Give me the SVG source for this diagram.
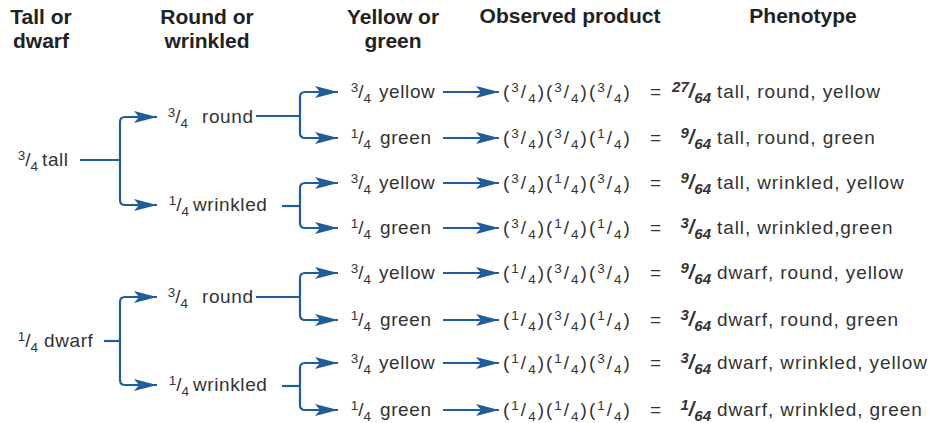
<svg xmlns="http://www.w3.org/2000/svg" width="934" height="423" viewBox="0 0 934 423">
<defs>
<style>
.h{font-family:"Liberation Sans",Arial,sans-serif;font-weight:bold;font-size:21px;fill:#222;text-anchor:middle}
.t{font-family:"Liberation Sans",Arial,sans-serif;font-size:19px;fill:#333;letter-spacing:0.6px}
.p{font-family:"Liberation Sans",Arial,sans-serif;font-size:19px;fill:#333;letter-spacing:2px}
.d{font-family:"Liberation Sans",Arial,sans-serif;font-size:19px;fill:#333;letter-spacing:0.9px}
.f{font-family:"Liberation Sans",Arial,sans-serif;font-size:19px;fill:#333;text-anchor:end}
.s{font-size:13.5px}
.fb{font-family:"Liberation Sans",Arial,sans-serif;font-weight:bold;font-style:italic;fill:#333;text-anchor:end;font-size:20px}
.fs{font-size:15px}
.c{fill:none;stroke:#1f5e9b;stroke-width:2.2}
.a{marker-end:url(#ah)}
</style>
<marker id="ah" markerUnits="userSpaceOnUse" markerWidth="24" markerHeight="13" refX="23" refY="6.5" orient="auto" overflow="visible">
<path d="M0,0.5 L23,6.5 L0,12.5 L5,6.5 Z" fill="#1f5e9b"/>
</marker>
</defs>
<rect width="934" height="423" fill="#fff"/>

<g id="headers">
<text class="h" x="41" y="24">Tall or</text>
<text class="h" x="41" y="48">dwarf</text>
<text class="h" x="207" y="24">Round or</text>
<text class="h" x="207" y="48">wrinkled</text>
<text class="h" x="393" y="24">Yellow or</text>
<text class="h" x="393" y="48">green</text>
<text class="h" x="570" y="23">Observed product</text>
<text class="h" x="803" y="23">Phenotype</text>
</g>

<g id="connectors">
<path class="c" d="M80,160 H120"/>
<path class="c a" d="M120,160 V122 Q120,117 125,117 H157"/>
<path class="c a" d="M120,160 V200 Q120,205 125,205 H157"/>
<path class="c" d="M104,341 H120"/>
<path class="c a" d="M120,341 V302 Q120,297 125,297 H157"/>
<path class="c a" d="M120,341 V380 Q120,385 125,385 H157"/>

<path class="c" d="M256,116 H300"/>
<path class="c a" d="M300,116 V97 Q300,92 305,92 H338"/>
<path class="c a" d="M300,116 V133 Q300,138 305,138 H338"/>
<path class="c" d="M282,206 H300"/>
<path class="c a" d="M300,206 V188 Q300,183 305,183 H338"/>
<path class="c a" d="M300,206 V223 Q300,228 305,228 H338"/>
<path class="c" d="M256,297 H300"/>
<path class="c a" d="M300,297 V278 Q300,273 305,273 H338"/>
<path class="c a" d="M300,297 V315 Q300,320 305,320 H338"/>
<path class="c" d="M282,386 H300"/>
<path class="c a" d="M300,386 V368 Q300,363 305,363 H338"/>
<path class="c a" d="M300,386 V405 Q300,410 305,410 H338"/>

<path class="c a" d="M443,92 H499"/>
<path class="c a" d="M443,138 H499"/>
<path class="c a" d="M443,183 H499"/>
<path class="c a" d="M443,228 H499"/>
<path class="c a" d="M443,273 H499"/>
<path class="c a" d="M443,320 H499"/>
<path class="c a" d="M443,363 H499"/>
<path class="c a" d="M443,410 H499"/>
</g>

<g id="tall">
<text class="f" x="38" y="166"><tspan class="s" dy="-6">3</tspan><tspan dy="6">/</tspan><tspan class="s" dy="5">4</tspan></text>
<text class="t" x="42" y="166">tall</text>
</g>
<g id="dwarf">
<text class="f" x="38" y="347"><tspan class="s" dy="-6">1</tspan><tspan dy="6">/</tspan><tspan class="s" dy="5">4</tspan></text>
<text class="t" x="44" y="347">dwarf</text>
</g>

<g id="tall-round">
<text class="f" x="188" y="123"><tspan class="s" dy="-6">3</tspan><tspan dy="6">/</tspan><tspan class="s" dy="5">4</tspan></text>
<text class="t" x="202" y="123">round</text>
</g>
<g id="tall-wrinkled">
<text class="f" x="189" y="211"><tspan class="s" dy="-6">1</tspan><tspan dy="6">/</tspan><tspan class="s" dy="5">4</tspan></text>
<text class="t" x="193" y="211">wrinkled</text>
</g>
<g id="dwarf-round">
<text class="f" x="188" y="303"><tspan class="s" dy="-6">3</tspan><tspan dy="6">/</tspan><tspan class="s" dy="5">4</tspan></text>
<text class="t" x="202" y="303">round</text>
</g>
<g id="dwarf-wrinkled">
<text class="f" x="189" y="391"><tspan class="s" dy="-6">1</tspan><tspan dy="6">/</tspan><tspan class="s" dy="5">4</tspan></text>
<text class="t" x="193" y="391">wrinkled</text>
</g>

<g id="c1">
<text class="f" x="371" y="98"><tspan class="s" dy="-6">3</tspan><tspan dy="6">/</tspan><tspan class="s" dy="5">4</tspan></text>
<text class="t" x="379" y="98">yellow</text>
</g>
<g id="c2">
<text class="f" x="371" y="144"><tspan class="s" dy="-6">1</tspan><tspan dy="6">/</tspan><tspan class="s" dy="5">4</tspan></text>
<text class="t" x="380" y="144">green</text>
</g>
<g id="c3">
<text class="f" x="371" y="189"><tspan class="s" dy="-6">3</tspan><tspan dy="6">/</tspan><tspan class="s" dy="5">4</tspan></text>
<text class="t" x="379" y="189">yellow</text>
</g>
<g id="c4">
<text class="f" x="371" y="234"><tspan class="s" dy="-6">1</tspan><tspan dy="6">/</tspan><tspan class="s" dy="5">4</tspan></text>
<text class="t" x="380" y="234">green</text>
</g>
<g id="c5">
<text class="f" x="371" y="279"><tspan class="s" dy="-6">3</tspan><tspan dy="6">/</tspan><tspan class="s" dy="5">4</tspan></text>
<text class="t" x="379" y="279">yellow</text>
</g>
<g id="c6">
<text class="f" x="371" y="326"><tspan class="s" dy="-6">1</tspan><tspan dy="6">/</tspan><tspan class="s" dy="5">4</tspan></text>
<text class="t" x="380" y="326">green</text>
</g>
<g id="c7">
<text class="f" x="371" y="369"><tspan class="s" dy="-6">3</tspan><tspan dy="6">/</tspan><tspan class="s" dy="5">4</tspan></text>
<text class="t" x="379" y="369">yellow</text>
</g>
<g id="c8">
<text class="f" x="371" y="416"><tspan class="s" dy="-6">1</tspan><tspan dy="6">/</tspan><tspan class="s" dy="5">4</tspan></text>
<text class="t" x="380" y="416">green</text>
</g>

<g id="r1">
<text class="p" x="503" y="98">(<tspan class="s" dy="-6">3</tspan><tspan dy="6">/</tspan><tspan class="s" dy="5">4</tspan><tspan dy="-5">)(</tspan><tspan class="s" dy="-6">3</tspan><tspan dy="6">/</tspan><tspan class="s" dy="5">4</tspan><tspan dy="-5">)(</tspan><tspan class="s" dy="-6">3</tspan><tspan dy="6">/</tspan><tspan class="s" dy="5">4</tspan><tspan dy="-5">)</tspan></text>
<text class="t" x="650" y="98">=</text>
<text class="fb" x="711" y="98"><tspan class="fs" dy="-6">27</tspan><tspan dy="6">/</tspan><tspan class="fs" dy="5">64</tspan></text>
<text class="d" x="717" y="98">tall, round, yellow</text>
</g>
<g id="r2">
<text class="p" x="503" y="144">(<tspan class="s" dy="-6">3</tspan><tspan dy="6">/</tspan><tspan class="s" dy="5">4</tspan><tspan dy="-5">)(</tspan><tspan class="s" dy="-6">3</tspan><tspan dy="6">/</tspan><tspan class="s" dy="5">4</tspan><tspan dy="-5">)(</tspan><tspan class="s" dy="-6">1</tspan><tspan dy="6">/</tspan><tspan class="s" dy="5">4</tspan><tspan dy="-5">)</tspan></text>
<text class="t" x="650" y="144">=</text>
<text class="fb" x="711" y="144"><tspan class="fs" dy="-6">9</tspan><tspan dy="6">/</tspan><tspan class="fs" dy="5">64</tspan></text>
<text class="d" x="717" y="144">tall, round, green</text>
</g>
<g id="r3">
<text class="p" x="503" y="189">(<tspan class="s" dy="-6">3</tspan><tspan dy="6">/</tspan><tspan class="s" dy="5">4</tspan><tspan dy="-5">)(</tspan><tspan class="s" dy="-6">1</tspan><tspan dy="6">/</tspan><tspan class="s" dy="5">4</tspan><tspan dy="-5">)(</tspan><tspan class="s" dy="-6">3</tspan><tspan dy="6">/</tspan><tspan class="s" dy="5">4</tspan><tspan dy="-5">)</tspan></text>
<text class="t" x="650" y="189">=</text>
<text class="fb" x="711" y="189"><tspan class="fs" dy="-6">9</tspan><tspan dy="6">/</tspan><tspan class="fs" dy="5">64</tspan></text>
<text class="d" x="717" y="189">tall, wrinkled, yellow</text>
</g>
<g id="r4">
<text class="p" x="503" y="234">(<tspan class="s" dy="-6">3</tspan><tspan dy="6">/</tspan><tspan class="s" dy="5">4</tspan><tspan dy="-5">)(</tspan><tspan class="s" dy="-6">1</tspan><tspan dy="6">/</tspan><tspan class="s" dy="5">4</tspan><tspan dy="-5">)(</tspan><tspan class="s" dy="-6">1</tspan><tspan dy="6">/</tspan><tspan class="s" dy="5">4</tspan><tspan dy="-5">)</tspan></text>
<text class="t" x="650" y="234">=</text>
<text class="fb" x="711" y="234"><tspan class="fs" dy="-6">3</tspan><tspan dy="6">/</tspan><tspan class="fs" dy="5">64</tspan></text>
<text class="d" x="717" y="234">tall, wrinkled,green</text>
</g>
<g id="r5">
<text class="p" x="503" y="279">(<tspan class="s" dy="-6">1</tspan><tspan dy="6">/</tspan><tspan class="s" dy="5">4</tspan><tspan dy="-5">)(</tspan><tspan class="s" dy="-6">3</tspan><tspan dy="6">/</tspan><tspan class="s" dy="5">4</tspan><tspan dy="-5">)(</tspan><tspan class="s" dy="-6">3</tspan><tspan dy="6">/</tspan><tspan class="s" dy="5">4</tspan><tspan dy="-5">)</tspan></text>
<text class="t" x="650" y="279">=</text>
<text class="fb" x="711" y="279"><tspan class="fs" dy="-6">9</tspan><tspan dy="6">/</tspan><tspan class="fs" dy="5">64</tspan></text>
<text class="d" x="717" y="279">dwarf, round, yellow</text>
</g>
<g id="r6">
<text class="p" x="503" y="326">(<tspan class="s" dy="-6">1</tspan><tspan dy="6">/</tspan><tspan class="s" dy="5">4</tspan><tspan dy="-5">)(</tspan><tspan class="s" dy="-6">3</tspan><tspan dy="6">/</tspan><tspan class="s" dy="5">4</tspan><tspan dy="-5">)(</tspan><tspan class="s" dy="-6">1</tspan><tspan dy="6">/</tspan><tspan class="s" dy="5">4</tspan><tspan dy="-5">)</tspan></text>
<text class="t" x="650" y="326">=</text>
<text class="fb" x="711" y="326"><tspan class="fs" dy="-6">3</tspan><tspan dy="6">/</tspan><tspan class="fs" dy="5">64</tspan></text>
<text class="d" x="717" y="326">dwarf, round, green</text>
</g>
<g id="r7">
<text class="p" x="503" y="369">(<tspan class="s" dy="-6">1</tspan><tspan dy="6">/</tspan><tspan class="s" dy="5">4</tspan><tspan dy="-5">)(</tspan><tspan class="s" dy="-6">1</tspan><tspan dy="6">/</tspan><tspan class="s" dy="5">4</tspan><tspan dy="-5">)(</tspan><tspan class="s" dy="-6">3</tspan><tspan dy="6">/</tspan><tspan class="s" dy="5">4</tspan><tspan dy="-5">)</tspan></text>
<text class="t" x="650" y="369">=</text>
<text class="fb" x="711" y="369"><tspan class="fs" dy="-6">3</tspan><tspan dy="6">/</tspan><tspan class="fs" dy="5">64</tspan></text>
<text class="d" x="717" y="369">dwarf, wrinkled, yellow</text>
</g>
<g id="r8">
<text class="p" x="503" y="416">(<tspan class="s" dy="-6">1</tspan><tspan dy="6">/</tspan><tspan class="s" dy="5">4</tspan><tspan dy="-5">)(</tspan><tspan class="s" dy="-6">1</tspan><tspan dy="6">/</tspan><tspan class="s" dy="5">4</tspan><tspan dy="-5">)(</tspan><tspan class="s" dy="-6">1</tspan><tspan dy="6">/</tspan><tspan class="s" dy="5">4</tspan><tspan dy="-5">)</tspan></text>
<text class="t" x="650" y="416">=</text>
<text class="fb" x="711" y="416"><tspan class="fs" dy="-6">1</tspan><tspan dy="6">/</tspan><tspan class="fs" dy="5">64</tspan></text>
<text class="d" x="717" y="416">dwarf, wrinkled, green</text>
</g>
</svg>
